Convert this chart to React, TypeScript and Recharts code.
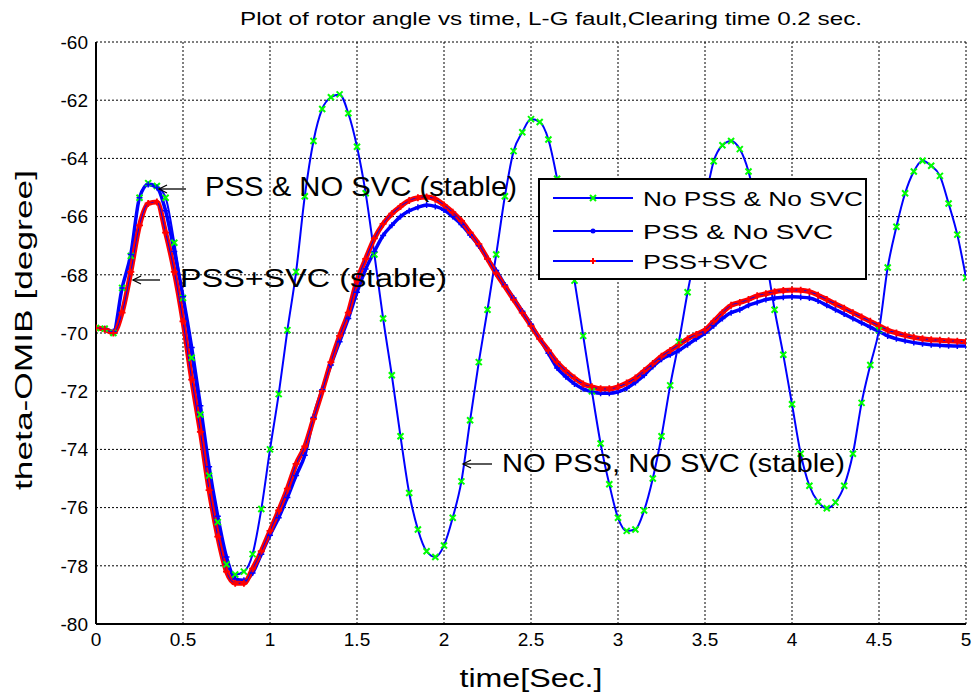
import React from 'react';
import { LineChart, Line, XAxis, YAxis, CartesianGrid, Legend } from 'recharts';

const timeSec = [
  0, 0.05, 0.1, 0.15, 0.2, 0.25, 0.3, 0.35, 0.4, 0.45, 0.5, 0.55, 0.6, 0.65, 0.7, 0.75, 0.8, 0.85, 0.9, 0.95,
  1, 1.05, 1.1, 1.15, 1.2, 1.25, 1.3, 1.35, 1.4, 1.45, 1.5, 1.55, 1.6, 1.65, 1.7, 1.75, 1.8, 1.85, 1.9, 1.95,
  2, 2.05, 2.1, 2.15, 2.2, 2.25, 2.3, 2.35, 2.4, 2.45, 2.5, 2.55, 2.6, 2.65, 2.7, 2.75, 2.8, 2.85, 2.9, 2.95,
  3, 3.05, 3.1, 3.15, 3.2, 3.25, 3.3, 3.35, 3.4, 3.45, 3.5, 3.55, 3.6, 3.65, 3.7, 3.75, 3.8, 3.85, 3.9, 3.95,
  4, 4.05, 4.1, 4.15, 4.2, 4.25, 4.3, 4.35, 4.4, 4.45, 4.5, 4.55, 4.6, 4.65, 4.7, 4.75, 4.8, 4.85, 4.9, 4.95, 5,
];

const noPssNoSvc = [
  -69.83, -69.85, -70.0, -68.45, -67.35, -65.35, -64.85, -64.95, -65.35, -66.9, -68.8, -70.85, -72.8, -74.9, -76.5, -77.95, -78.3, -78.2, -77.6, -76.05,
  -74.0, -72.1, -69.9, -67.9, -65.3, -63.4, -62.3, -61.9, -61.8, -62.45, -63.6, -65.2, -67.3, -69.5, -71.45, -73.55, -75.5, -76.75, -77.5, -77.7,
  -77.3, -76.35, -75.1, -73.0, -71.0, -69.2, -67.3, -65.3, -63.75, -63.1, -62.65, -62.75, -63.35, -64.7, -66.4, -68.2, -70.1, -72.0, -73.8, -75.2,
  -76.35, -76.8, -76.75, -76.1, -75.0, -73.55, -71.8, -70.3, -68.6, -67.1, -65.5, -64.1, -63.55, -63.4, -63.68, -64.45, -65.8, -67.4, -69.2, -70.75,
  -72.45, -74.15, -75.25, -75.8, -76.02, -75.82, -75.25, -74.15, -72.4, -71.1, -69.9, -67.75, -66.35, -65.2, -64.45, -64.08, -64.25, -64.6, -65.55, -66.62, -68.1,
];

const pssNoSvc = [
  -69.83, -69.85, -69.95, -68.45, -67.3, -65.35, -64.9, -65.0, -65.8, -67.2, -68.75, -70.5, -72.5, -74.6, -76.3, -77.7, -78.45, -78.5, -78.25, -77.6,
  -76.95, -76.35, -75.65, -74.9, -74.2, -72.9, -71.95, -71.1, -70.3, -69.5, -68.6, -67.8, -67.2, -66.65, -66.3, -66.0, -65.8, -65.68, -65.6, -65.65,
  -65.77, -66.0, -66.27, -66.63, -67.0, -67.45, -67.85, -68.35, -68.8, -69.25, -69.7, -70.2, -70.7, -71.2, -71.5, -71.75, -71.92, -72.02, -72.07, -72.07,
  -72.02, -71.9, -71.7, -71.45, -71.15, -70.9, -70.75, -70.6, -70.4, -70.2, -70.0, -69.75, -69.5, -69.3, -69.2, -69.05, -68.95, -68.85, -68.8, -68.77,
  -68.75, -68.77, -68.8, -68.9, -69.05, -69.2, -69.35, -69.5, -69.65, -69.8, -69.95, -70.1, -70.2, -70.27, -70.33, -70.37, -70.4, -70.42, -70.44, -70.45, -70.45,
];

const pssSvc = [
  -69.83, -69.87, -70.0, -69.3, -67.9, -66.3, -65.55, -65.5, -66.55, -67.9, -69.6, -71.6, -73.4, -75.4, -77.0, -78.2, -78.6, -78.6, -78.1, -77.5,
  -76.8, -76.1, -75.35, -74.5, -73.9, -72.95, -72.0, -71.0, -70.1, -69.3, -68.2, -67.45, -66.75, -66.25, -65.9, -65.65, -65.45, -65.35, -65.33, -65.4,
  -65.6, -65.85, -66.15, -66.55, -66.95, -67.45, -67.95, -68.4, -68.85, -69.3, -69.75, -70.2, -70.6, -71.0, -71.3, -71.55, -71.75, -71.85, -71.92, -71.92,
  -71.85, -71.72, -71.55, -71.3, -71.05, -70.8, -70.6, -70.4, -70.2, -70.05, -69.9, -69.6, -69.3, -69.05, -68.95, -68.85, -68.72, -68.65, -68.58, -68.54,
  -68.52, -68.53, -68.58, -68.7, -68.85, -69.0, -69.15, -69.3, -69.45, -69.6, -69.75, -69.9, -70.0, -70.08, -70.15, -70.2, -70.23, -70.25, -70.27, -70.28, -70.3,
];

const xTicks = [0, 0.5, 1, 1.5, 2, 2.5, 3, 3.5, 4, 4.5, 5];
const yTicks = [-80, -78, -76, -74, -72, -70, -68, -66, -64, -62, -60];
const seriesNames = ['No PSS & No SVC', 'PSS & No SVC', 'PSS+SVC'];

const data = timeSec.map((t, i) => ({ t, g: noPssNoSvc[i], b: pssNoSvc[i], r: pssSvc[i] }));

const FONT = "'Liberation Sans', Arial, Helvetica, sans-serif";
const LINE_BLUE = '#0000ff';
const GREEN = '#00ff00';
const RED = '#ff0000';

const XMark = (props: any) => {
  const { cx, cy, index } = props;
  if (cx == null || cy == null) return <g key={`gx${index}`} />;
  const s = 3;
  return (
    <path
      key={`gx${index}`}
      d={`M${cx - s},${cy - s}L${cx + s},${cy + s}M${cx - s},${cy + s}L${cx + s},${cy - s}`}
      stroke={GREEN}
      strokeWidth={2}
      fill="none"
    />
  );
};

const makePlus = (color: string, s: number, w: number, pref: string) => (props: any) => {
  const { cx, cy, index } = props;
  if (cx == null || cy == null) return <g key={`${pref}${index}`} />;
  return (
    <path
      key={`${pref}${index}`}
      d={`M${cx - s},${cy}L${cx + s},${cy}M${cx},${cy - s}L${cx},${cy + s}`}
      stroke={color}
      strokeWidth={w}
      fill="none"
    />
  );
};

const BluePlus = makePlus(LINE_BLUE, 3, 1.5, 'bp');
const RedPlus = makePlus(RED, 3.5, 1.8, 'rp');
const NoTick = (props: any) => <g key={`nt${props.index}`} />;

const LegendBox = () => {
  const rows = [
    { y: 20, mark: 'x', len: 220 },
    { y: 53, mark: '.', len: 190 },
    { y: 83, mark: '+', len: 125 },
  ];
  return (
    <svg width={329} height={102} style={{ display: 'block' }}>
      <rect x={1} y={1} width={327} height={100} fill="#fff" stroke="#000" strokeWidth={2} />
      {rows.map((r, i) => (
        <g key={i}>
          <line x1={15} y1={r.y} x2={95} y2={r.y} stroke={LINE_BLUE} strokeWidth={2} />
          {r.mark === 'x' && (
            <path d={`M52,${r.y - 3}L58,${r.y + 3}M52,${r.y + 3}L58,${r.y - 3}`} stroke={GREEN} strokeWidth={2} />
          )}
          {r.mark === '.' && <circle cx={55} cy={r.y} r={2.5} fill={LINE_BLUE} />}
          {r.mark === '+' && (
            <path d={`M52,${r.y}L58,${r.y}M55,${r.y - 3}L55,${r.y + 3}`} stroke={RED} strokeWidth={2} />
          )}
          <text
            x={105}
            y={r.y + 7.5}
            fontSize={21}
            fontFamily={FONT}
            fill="#000"
            textLength={r.len}
            lengthAdjust="spacingAndGlyphs"
          >
            {seriesNames[i]}
          </text>
        </g>
      ))}
    </svg>
  );
};

const Arrow = ({ x1, x2, y }: { x1: number; x2: number; y: number }) => (
  <g stroke="#000" strokeWidth={1.3} fill="none">
    <line x1={x1} y1={y} x2={x2} y2={y} />
    <path d={`M${x2 + 8},${y - 4}L${x2},${y}L${x2 + 8},${y + 4}`} />
  </g>
);

export default function App() {
  return (
    <div style={{ position: 'absolute', left: 0, top: 0, width: 976, height: 693, background: '#fff' }}>
      <LineChart
        width={976}
        height={693}
        data={data}
        margin={{ top: 42, right: 10, bottom: 39, left: 0 }}
      >
        <CartesianGrid stroke="#000" strokeDasharray="2 2" strokeWidth={1} />
        <XAxis
          dataKey="t"
          type="number"
          domain={[0, 5]}
          ticks={xTicks}
          allowDataOverflow
          height={30}
          tickLine={false}
          tickSize={0}
          tickMargin={9}
          axisLine={{ stroke: '#000', strokeWidth: 2 }}
          tick={{ fontSize: 19, fill: '#000', fontFamily: FONT }}
        />
        <XAxis
          xAxisId="bm"
          type="number"
          domain={[0, 5]}
          ticks={xTicks}
          orientation="bottom"
          mirror
          height={0}
          tick={NoTick}
          tickSize={8}
          tickLine={{ stroke: '#000', strokeWidth: 1 }}
          axisLine={false}
        />
        <XAxis
          xAxisId="tm"
          type="number"
          domain={[0, 5]}
          ticks={xTicks}
          orientation="top"
          mirror
          height={0}
          tick={NoTick}
          tickSize={8}
          tickLine={{ stroke: '#000', strokeWidth: 1 }}
          axisLine={{ stroke: '#000', strokeWidth: 2 }}
        />
        <YAxis
          type="number"
          domain={[-80, -60]}
          ticks={yTicks}
          allowDataOverflow
          width={96}
          tickLine={false}
          tickSize={0}
          tickMargin={8}
          axisLine={{ stroke: '#000', strokeWidth: 2 }}
          tick={{ fontSize: 19, fill: '#000', fontFamily: FONT }}
        />
        <YAxis
          yAxisId="lm"
          type="number"
          domain={[-80, -60]}
          ticks={yTicks}
          orientation="left"
          mirror
          width={0}
          tick={NoTick}
          tickSize={8}
          tickLine={{ stroke: '#000', strokeWidth: 1 }}
          axisLine={false}
        />
        <YAxis
          yAxisId="rm"
          type="number"
          domain={[-80, -60]}
          ticks={yTicks}
          orientation="right"
          mirror
          width={0}
          tick={NoTick}
          tickSize={8}
          tickLine={{ stroke: '#000', strokeWidth: 1 }}
          axisLine={{ stroke: '#000', strokeWidth: 2 }}
        />
        <Line
          type="monotone"
          dataKey="g"
          name={seriesNames[0]}
          stroke={LINE_BLUE}
          strokeWidth={2}
          dot={XMark}
          activeDot={false}
          isAnimationActive={false}
        />
        <Line
          type="monotone"
          dataKey="b"
          name={seriesNames[1]}
          stroke={LINE_BLUE}
          strokeWidth={3.5}
          dot={BluePlus}
          activeDot={false}
          isAnimationActive={false}
        />
        <Line
          type="monotone"
          dataKey="r"
          name="PSS+SVC band"
          legendType="none"
          stroke={RED}
          strokeWidth={5}
          dot={false}
          activeDot={false}
          isAnimationActive={false}
        />
        <Line
          type="monotone"
          dataKey="r"
          name={seriesNames[2]}
          stroke={LINE_BLUE}
          strokeWidth={1}
          dot={RedPlus}
          activeDot={false}
          isAnimationActive={false}
        />
        <Legend
          layout="vertical"
          align="center"
          verticalAlign="middle"
          content={() => <LegendBox />}
          wrapperStyle={{ position: 'absolute', left: 538, top: 178, width: 329, height: 102 }}
        />
      </LineChart>
      <svg
        width={976}
        height={693}
        style={{ position: 'absolute', left: 0, top: 0, pointerEvents: 'none' }}
      >
        <text x={551} y={25} textAnchor="middle" fontSize={19} fontFamily={FONT} fill="#000" textLength={622} lengthAdjust="spacingAndGlyphs">
          Plot of rotor angle vs time, L-G fault,Clearing time 0.2 sec.
        </text>
        <text x={531} y={687} textAnchor="middle" fontSize={25} fontFamily={FONT} fill="#000" textLength={143} lengthAdjust="spacingAndGlyphs">
          time[Sec.]
        </text>
        <text
          x={32}
          y={330}
          textAnchor="middle"
          fontSize={24}
          fontFamily={FONT}
          fill="#000"
          transform="rotate(-90 32 330)"
          textLength={320}
          lengthAdjust="spacingAndGlyphs"
        >
          theta-OMIB [degree]
        </text>
        <Arrow x1={186} x2={159} y={189} />
        <text x={205} y={196} fontSize={27} fontFamily={FONT} fill="#000" textLength={312} lengthAdjust="spacingAndGlyphs">
          PSS &amp; NO SVC (stable)
        </text>
        <Arrow x1={160} x2={133} y={280} />
        <text x={180} y={287} fontSize={26} fontFamily={FONT} fill="#000" textLength={267} lengthAdjust="spacingAndGlyphs">
          PSS+SVC (stable)
        </text>
        <Arrow x1={492} x2={463} y={464} />
        <text x={502} y={472} fontSize={26} fontFamily={FONT} fill="#000" textLength={343} lengthAdjust="spacingAndGlyphs">
          NO PSS, NO SVC (stable)
        </text>
      </svg>
    </div>
  );
}
